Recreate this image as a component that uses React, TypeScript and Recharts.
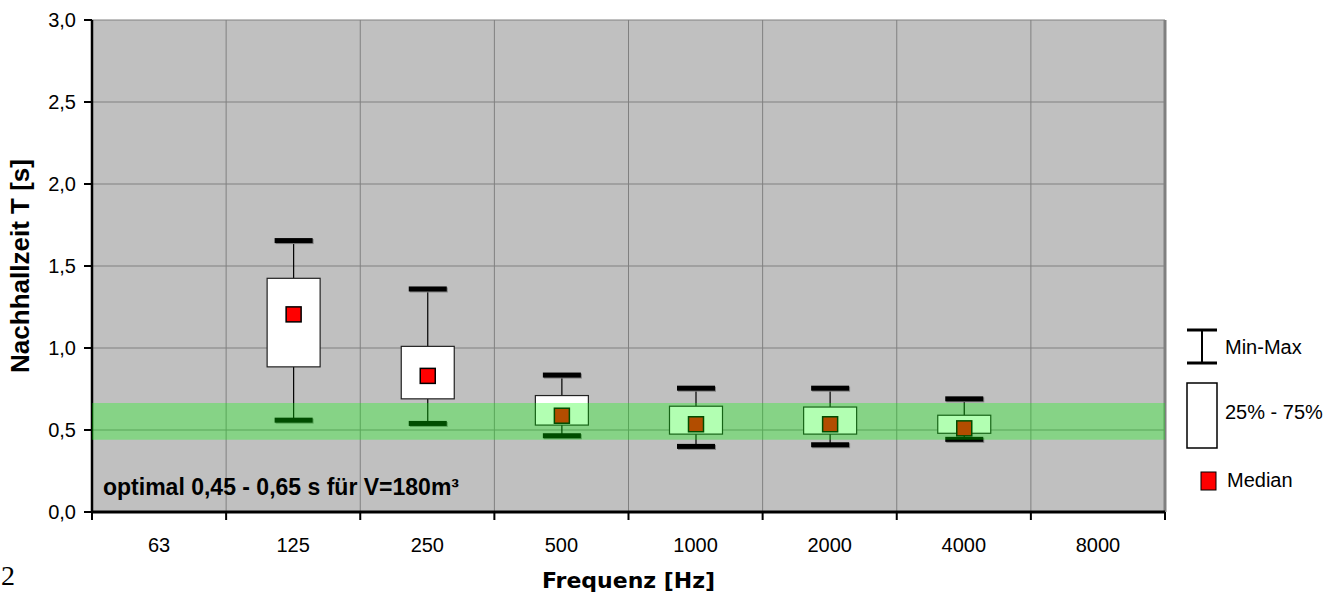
import React from 'react';
import {
  ComposedChart, Bar, XAxis, YAxis, CartesianGrid, ReferenceArea, ReferenceLine, Legend, Label,
} from 'recharts';

const categories = ['63', '125', '250', '500', '1000', '2000', '4000', '8000'];
const minValues: (number | null)[] = [null, 0.56, 0.54, 0.465, 0.40, 0.41, 0.443, null];
const q1Values: (number | null)[] = [null, 0.885, 0.69, 0.53, 0.475, 0.475, 0.48, null];
const medianValues: (number | null)[] = [null, 1.205, 0.83, 0.587, 0.535, 0.535, 0.51, null];
const q3Values: (number | null)[] = [null, 1.425, 1.01, 0.71, 0.645, 0.64, 0.59, null];
const maxValues: (number | null)[] = [null, 1.655, 1.36, 0.835, 0.755, 0.755, 0.69, null];
const yTicks = [0, 0.5, 1, 1.5, 2, 2.5, 3];
const bandLow = 0.44;
const bandHigh = 0.665;
const bandText = 'optimal 0,45 - 0,65 s für V=180m³';

const xTicks = Array.from({ length: categories.length * 2 + 1 }, (_, i) => i / 2);
const gridXs = Array.from({ length: categories.length }, (_, i) => i + 1);

const data = categories
  .map((name, i) => ({
    name,
    pos: i + 0.5,
    min: minValues[i],
    q1: q1Values[i],
    median: medianValues[i],
    q3: q3Values[i],
    max: maxValues[i],
    range: minValues[i] != null ? [minValues[i], maxValues[i]] : null,
  }))
  .filter((d) => d.range != null);

const SANS = '"Liberation Sans", Arial, sans-serif';

const BoxShape = (props: any) => {
  const { x, y, width, height, payload } = props;
  if (!payload || height == null || payload.min == null) return null;
  const { min, max, q1, q3, median } = payload;
  const k = height / (max - min);
  const py = (v: number) => y + (max - v) * k;
  const cx = x + width / 2;
  const capW = 38;
  const capH = 5;
  const med = 15;
  return (
    <g>
      <line x1={cx} x2={cx} y1={py(max)} y2={py(q3)} stroke="#000" strokeWidth={1.2} />
      <line x1={cx} x2={cx} y1={py(q1)} y2={py(min)} stroke="#000" strokeWidth={1.2} />
      <rect x={cx - capW / 2 + 1} y={py(max) - capH / 2 + 1} width={capW} height={capH} fill="#808080" />
      <rect x={cx - capW / 2} y={py(max) - capH / 2} width={capW} height={capH} fill="#000" />
      <rect x={cx - capW / 2 + 1} y={py(min) - capH / 2 + 1} width={capW} height={capH} fill="#808080" />
      <rect x={cx - capW / 2} y={py(min) - capH / 2} width={capW} height={capH} fill="#000" />
      <rect x={x} y={py(q3)} width={width} height={py(q1) - py(q3)} fill="#fff" stroke="#222" strokeWidth={1.2} />
      <rect x={cx - med / 2} y={py(median) - med / 2} width={med} height={med} fill="#ff0000" stroke="#000" strokeWidth={1.5} />
    </g>
  );
};

const XTick = (props: any) => {
  const { x, y, payload } = props;
  const v = payload.value as number;
  if (Number.isInteger(v)) {
    return <line x1={x} x2={x} y1={y} y2={y + 8} stroke="#000" strokeWidth={2} />;
  }
  return (
    <text x={x} y={y + 40} textAnchor="middle" fontFamily={SANS} fontSize={20} fill="#000">
      {categories[Math.floor(v)]}
    </text>
  );
};

const LegendContent = () => (
  <svg width={160} height={185} style={{ display: 'block' }}>
    <line x1={7} x2={37} y1={10} y2={10} stroke="#000" strokeWidth={3} />
    <line x1={7} x2={37} y1={43} y2={43} stroke="#000" strokeWidth={3} />
    <line x1={22} x2={22} y1={10} y2={43} stroke="#000" strokeWidth={2} />
    <text x={45} y={27} dominantBaseline="central" fontFamily={SANS} fontSize={20} fill="#000">Min-Max</text>
    <rect x={7} y={63} width={30} height={65} fill="#fff" stroke="#000" strokeWidth={1.5} />
    <text x={45} y={92} dominantBaseline="central" fontFamily={SANS} fontSize={20} fill="#000">25% - 75%</text>
    <rect x={21} y={152} width={15} height={18} fill="#ff0000" stroke="#000" strokeWidth={1} />
    <text x={47} y={160} dominantBaseline="central" fontFamily={SANS} fontSize={20} fill="#000">Median</text>
  </svg>
);

export default function App() {
  return (
    <div style={{ position: 'absolute', left: 0, top: 0, width: 1341, height: 593, background: '#fff' }}>
      <ComposedChart
        width={1341}
        height={593}
        data={data}
        margin={{ top: 20, right: 176, left: 0, bottom: 0 }}
      >
        <CartesianGrid horizontal vertical={false} stroke="#808080" strokeWidth={1} fill="#C0C0C0" fillOpacity={1} />
        {gridXs.map((gx) => (
          <ReferenceLine
            key={gx}
            x={gx}
            stroke="#808080"
            strokeWidth={gx === categories.length ? 3 : 1}
            ifOverflow="extendDomain"
          />
        ))}
        <XAxis
          dataKey="pos"
          type="number"
          domain={[0, categories.length]}
          ticks={xTicks}
          interval={0}
          tick={<XTick />}
          tickLine={false}
          tickSize={0}
          tickMargin={0}
          axisLine={{ stroke: '#000', strokeWidth: 3 }}
          height={81}
          allowDataOverflow
        >
          <Label
            content={(p: any) => {
              const vb = p.viewBox || {};
              return (
                <text
                  x={vb.x + vb.width / 2}
                  y={vb.y + 76}
                  textAnchor="middle"
                  fontFamily='"DejaVu Sans", Verdana, sans-serif'
                  fontWeight="bold"
                  fontSize={22}
                  fill="#000"
                >
                  Frequenz [Hz]
                </text>
              );
            }}
          />
        </XAxis>
        <YAxis
          type="number"
          domain={[0, 3]}
          ticks={yTicks}
          interval={0}
          width={92}
          tickSize={8}
          tickMargin={8}
          tickFormatter={(v: number) => v.toFixed(1).replace('.', ',')}
          tick={{ fill: '#000', fontFamily: SANS, fontSize: 20 }}
          tickLine={{ stroke: '#000', strokeWidth: 2 }}
          axisLine={{ stroke: '#000', strokeWidth: 2.5 }}
        >
          <Label
            content={(p: any) => {
              const vb = p.viewBox || {};
              const cx = vb.x + 20;
              const cy = vb.y + vb.height / 2;
              return (
                <text
                  x={cx}
                  y={cy}
                  transform={`rotate(-90 ${cx} ${cy})`}
                  textAnchor="middle"
                  dominantBaseline="central"
                  fontFamily={SANS}
                  fontWeight="bold"
                  fontSize={26}
                  fill="#000"
                >
                  Nachhallzeit T [s]
                </text>
              );
            }}
          />
        </YAxis>
        <Bar dataKey="range" barSize={53} shape={<BoxShape />} isAnimationActive={false} />
        <ReferenceArea y1={bandLow} y2={bandHigh} fill="#00FF00" fillOpacity={0.3} stroke="none" zIndex={700} />
        <ReferenceLine
          y={0}
          stroke="none"
          label={(p: any) => {
            const vb = p.viewBox || {};
            return (
              <text x={vb.x + 11} y={vb.y - 17} fontFamily={SANS} fontWeight="bold" fontSize={23} fill="#000">
                {bandText}
              </text>
            );
          }}
        />
        <Legend
          align="center"
          verticalAlign="middle"
          layout="horizontal"
          content={<LegendContent />}
          wrapperStyle={{ left: 1180, top: 320, width: 160, height: 185 }}
        />
      </ComposedChart>
      <svg width={40} height={593} style={{ position: 'absolute', left: 0, top: 0, pointerEvents: 'none' }}>
        <text x={1} y={585} fontFamily='"Liberation Serif", "Times New Roman", serif' fontSize={28} fill="#000">2</text>
      </svg>
    </div>
  );
}
